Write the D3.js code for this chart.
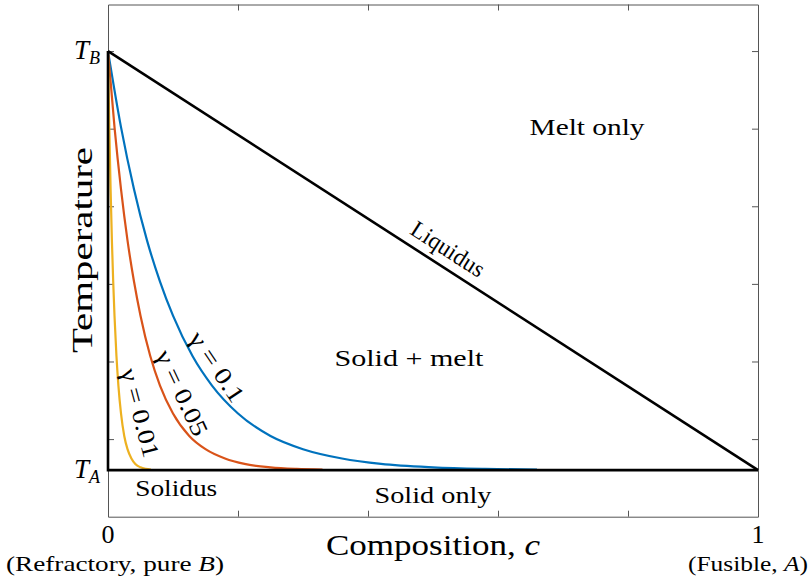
<!DOCTYPE html>
<html>
<head>
<meta charset="utf-8">
<script src="https://cdn.jsdelivr.net/npm/d3@7"></script>
<style>
  html, body { margin: 0; padding: 0; background: #fff; }
  svg text { font-family: "Liberation Serif", "Times New Roman", serif; fill: #000; }
</style>
</head>
<body>
<svg id="chart" width="811" height="581"></svg>
<script>
// Binary phase diagram: liquidus line and solidus curves for several gamma values
const T_A = 0.6;           // melting temperature of fusible end-member A
const T_B = 6.0;           // melting temperature of refractory end-member B
const xTicks = [0.2, 0.4, 0.6, 0.8];
const yTicks = [1, 2, 3, 4, 5, 6];
const xTickLabels = [[0, "0"], [1, "1"]];

const liquidus = [[0, T_B], [1, T_A]];
const boundary = [[0, T_B], [0, T_A], [1, T_A]];

// Solidus curves, composition c vs temperature
const solidus01 = [[0, 6.00], [0.02, 5.02], [0.04, 4.22], [0.06, 3.56], [0.08, 3.03], [0.10, 2.59],
  [0.13, 2.07], [0.16, 1.69], [0.20, 1.33], [0.25, 1.04], [0.30, 0.87], [0.36, 0.75],
  [0.42, 0.68], [0.50, 0.636], [0.58, 0.616], [0.66, 0.607]];
const solidus005 = [[0, 6.00], [0.01, 5.02], [0.02, 4.22], [0.03, 3.56], [0.04, 3.03], [0.05, 2.59],
  [0.065, 2.07], [0.08, 1.69], [0.10, 1.33], [0.125, 1.04], [0.15, 0.87], [0.18, 0.75],
  [0.21, 0.68], [0.25, 0.636], [0.29, 0.616], [0.33, 0.607]];
const solidus001 = [[0, 6.00], [0.002, 5.02], [0.004, 4.22], [0.006, 3.56], [0.008, 3.03], [0.010, 2.59],
  [0.013, 2.07], [0.016, 1.69], [0.020, 1.33], [0.025, 1.04], [0.030, 0.87], [0.036, 0.75],
  [0.042, 0.68], [0.050, 0.636], [0.058, 0.616], [0.066, 0.607]];

const seriesNames = ["γ = 0.1", "γ = 0.05", "γ = 0.01"];
const seriesColors = ["#0072BD", "#D95319", "#EDB120"];

const svg = d3.select("#chart");
const x = d3.scaleLinear().domain([0, 1]).range([108, 758]);
const y = d3.scaleLinear().domain([0, 6.6]).range([516.7, 4.5]);

// Box axes with inward ticks
const axisColor = "#555";
function styleAxis(g) {
  g.selectAll("path.domain").attr("stroke", axisColor).attr("stroke-width", 1);
  g.selectAll(".tick line").attr("stroke", axisColor).attr("stroke-width", 1);
  g.selectAll(".tick text").remove();
}
svg.append("g").attr("transform", `translate(0,${y(0)})`)
  .call(d3.axisBottom(x).tickValues(xTicks).tickSize(-6).tickSizeOuter(0)).call(styleAxis);
svg.append("g").attr("transform", `translate(0,${y(6.6)})`)
  .call(d3.axisTop(x).tickValues(xTicks).tickSize(-6).tickSizeOuter(0)).call(styleAxis);
svg.append("g").attr("transform", `translate(${x(0)},0)`)
  .call(d3.axisLeft(y).tickValues(yTicks).tickSize(-6).tickSizeOuter(0)).call(styleAxis);
svg.append("g").attr("transform", `translate(${x(1)},0)`)
  .call(d3.axisRight(y).tickValues(yTicks).tickSize(-6).tickSizeOuter(0)).call(styleAxis);

const line = d3.line().x(d => x(d[0])).y(d => y(d[1]));
const smooth = d3.line().x(d => x(d[0])).y(d => y(d[1])).curve(d3.curveMonotoneX);

// Solidus curves
[solidus01, solidus005, solidus001].forEach((s, i) => {
  svg.append("path").datum(s).attr("d", smooth)
    .attr("fill", "none").attr("stroke", seriesColors[i]).attr("stroke-width", 2.2);
});

// Liquidus and pure-component boundaries
svg.append("path").datum(boundary).attr("d", line)
  .attr("fill", "none").attr("stroke", "#000").attr("stroke-width", 2.6).attr("stroke-linejoin", "miter");
svg.append("path").datum(liquidus).attr("d", line)
  .attr("fill", "none").attr("stroke", "#000").attr("stroke-width", 2.6);

// Temperature labels on the left
function tempLabel(sub, t) {
  const tx = svg.append("text").attr("x", 100).attr("y", y(t) + 8)
    .attr("text-anchor", "end").attr("font-size", 27);
  tx.append("tspan").attr("font-style", "italic").text("T");
  tx.append("tspan").attr("font-style", "italic").attr("font-size", 18).attr("dy", 5).text(sub);
}
tempLabel("B", T_B);
tempLabel("A", T_A);

// Composition tick labels
xTickLabels.forEach(([v, s]) => {
  svg.append("text").attr("x", x(v)).attr("y", 543).attr("text-anchor", "middle")
    .attr("font-size", 26).text(s);
});

// End-member notes
const refr = svg.append("text").attr("x", 115).attr("y", 571).attr("text-anchor", "middle")
  .attr("font-size", 22).attr("textLength", 218).attr("lengthAdjust", "spacingAndGlyphs");
refr.append("tspan").text("(Refractory, pure ");
refr.append("tspan").attr("font-style", "italic").text("B");
refr.append("tspan").text(")");
const fus = svg.append("text").attr("x", 748).attr("y", 571).attr("text-anchor", "middle")
  .attr("font-size", 22).attr("textLength", 120).attr("lengthAdjust", "spacingAndGlyphs");
fus.append("tspan").text("(Fusible, ");
fus.append("tspan").attr("font-style", "italic").text("A");
fus.append("tspan").text(")");

// Axis titles
const xt = svg.append("text").attr("x", 433).attr("y", 555).attr("text-anchor", "middle")
  .attr("font-size", 30).attr("textLength", 214).attr("lengthAdjust", "spacingAndGlyphs");
xt.append("tspan").text("Composition, ");
xt.append("tspan").attr("font-style", "italic").text("c");
svg.append("text").attr("transform", "translate(92,250) rotate(-90)").attr("text-anchor", "middle")
  .attr("font-size", 30).attr("textLength", 206).attr("lengthAdjust", "spacingAndGlyphs").text("Temperature");

// Region labels
function region(txt, cx, cy, len) {
  svg.append("text").attr("x", x(cx)).attr("y", y(cy)).attr("text-anchor", "middle")
    .attr("dominant-baseline", "central").attr("font-size", 24)
    .attr("textLength", len).attr("lengthAdjust", "spacingAndGlyphs").text(txt);
}
region("Melt only", 0.737, 5.02, 115);
region("Solid + melt", 0.463, 2.05, 149);
region("Solid only", 0.5, 0.28, 117);
region("Solidus", 0.105, 0.37, 82);

// Liquidus label along the line
const ang = Math.atan2(y(T_A) - y(T_B), x(1) - x(0)) * 180 / Math.PI;
svg.append("text").attr("transform", `translate(448,249) rotate(${ang})`)
  .attr("text-anchor", "middle").attr("dominant-baseline", "central").attr("font-size", 24)
  .attr("textLength", 83).attr("lengthAdjust", "spacingAndGlyphs").text("Liquidus");

// Gamma labels along each solidus curve
const gammaPlace = [[217, 367, 56, 80], [182, 393, 65, 92], [140, 413, 75, 91]];
seriesNames.forEach((name, i) => {
  const [px, py, a, len] = gammaPlace[i];
  svg.append("text").attr("transform", `translate(${px},${py}) rotate(${a})`)
    .attr("text-anchor", "middle").attr("dominant-baseline", "central").attr("font-size", 24)
    .attr("textLength", len).attr("lengthAdjust", "spacingAndGlyphs").text(name);
});
</script>
</body>
</html>
